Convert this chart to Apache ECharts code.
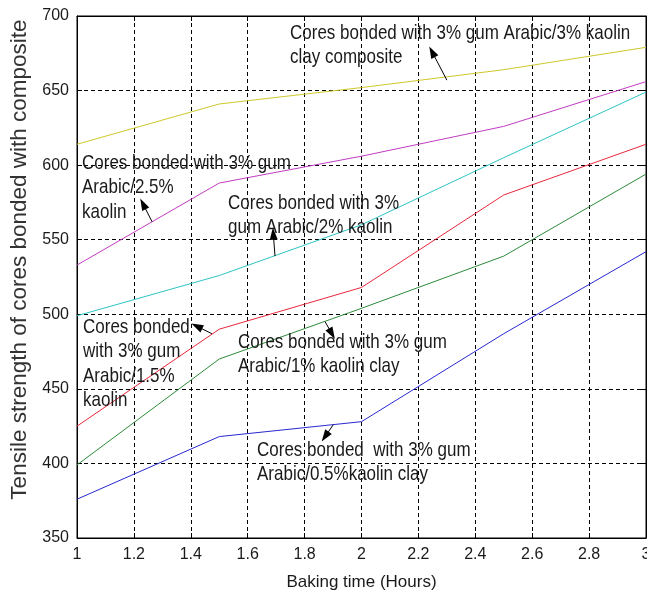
<!DOCTYPE html>
<html>
<head>
<meta charset="utf-8">
<script src="https://cdn.jsdelivr.net/npm/echarts@6/dist/echarts.min.js"></script>
<style>
html,body{margin:0;padding:0;background:#fff;}
#c{width:647px;height:594px;}
</style>
</head>
<body>
<div id="c"></div>
<script>
const bakingTime = [1, 1.5, 2, 2.5, 3];
const kaolin3 = [614, 641, 652, 664, 679];
const kaolin25 = [533, 588, 606, 626, 656];
const kaolin2 = [499, 526, 560, 605, 649];
const kaolin15 = [425, 490, 518, 580, 614];
const kaolin1 = [399, 470, 504, 539, 594];
const kaolin05 = [376, 418, 428, 487, 542];

const seriesNames = ['3% kaolin', '2.5% kaolin', '2% kaolin', '1.5% kaolin', '1% kaolin', '0.5% kaolin'];
const seriesColors = ['#cfc82a', '#c23cc2', '#2ec4c4', '#e8283a', '#2e8a3a', '#2828d0'];
const seriesValues = [kaolin3, kaolin25, kaolin2, kaolin15, kaolin1, kaolin05];

// annotation arrows (tail -> head) in data coordinates
const arrows = [
  [[2.300, 657], [2.248, 676]],
  [[1.264, 562], [1.232, 574]],
  [[1.696, 539], [1.690, 554]],
  [[1.474, 487], [1.421, 492]],
  [[1.872, 495], [1.896, 487]],
  [[1.901, 426], [1.872, 418]]
];
const annotationTexts = [
  'Cores bonded with 3% gum Arabic/3% kaolin\nclay composite',
  'Cores bonded with 3% gum\nArabic/2.5%\nkaolin',
  'Cores bonded with 3%\ngum Arabic/2% kaolin',
  'Cores bonded\nwith 3% gum\nArabic/1.5%\nkaolin',
  'Cores bonded with 3% gum\nArabic/1% kaolin clay',
  'Cores bonded  with 3% gum\nArabic/0.5%kaolin clay'
];
const annotationPos = [[290, 21], [82, 151], [228, 191], [83, 315], [238, 330], [257, 438]];

const sans = '"Liberation Sans", Arial, sans-serif';

const chart = echarts.init(document.getElementById('c'), null, {renderer: 'canvas'});

const series = seriesValues.map((vals, i) => ({
  name: seriesNames[i],
  type: 'line',
  data: bakingTime.map((x, j) => [x, vals[j]]),
  showSymbol: false,
  symbol: 'none',
  lineStyle: {color: seriesColors[i], width: 1},
  itemStyle: {color: seriesColors[i]},
  silent: true,
  markLine: {
    silent: true,
    symbol: ['none', 'triangle'],
    symbolSize: [8, 12],
    label: {show: false},
    lineStyle: {color: '#000', width: 1, type: 'solid'},
    data: [[{coord: arrows[i][0]}, {coord: arrows[i][1]}]]
  }
}));

const graphics = annotationTexts.map((t, i) => ({
  type: 'text',
  x: annotationPos[i][0],
  y: annotationPos[i][1],
  scaleY: 1.2,
  silent: true,
  z: 100,
  style: {
    text: t,
    font: '17px ' + sans,
    fill: '#1a1a1a',
    lineHeight: 20.4,
    verticalAlign: 'top',
    align: 'left'
  }
}));

const axisCommon = {
  axisLine: {show: true, lineStyle: {color: '#000', width: 1}},
  axisTick: {show: true, inside: true, length: 5, lineStyle: {color: '#000'}},
};

chart.setOption({
  animation: false,
  backgroundColor: '#fff',
  grid: {left: 77, right: 1, top: 16, bottom: 56, outerBoundsMode: 'none', containLabel: false,
    show: true, borderColor: '#000', borderWidth: 1, backgroundColor: '#fff'},
  xAxis: [{
    type: 'value', min: 1, max: 3, interval: 0.2,
    name: 'Baking time (Hours)', nameLocation: 'middle', nameGap: 36,
    nameTextStyle: {fontFamily: sans, fontSize: 17, color: '#1a1a1a'},
    ...axisCommon,
    axisLabel: {fontFamily: sans, fontSize: 16, color: '#1a1a1a', margin: 9,
      formatter: v => String(Math.round(v * 10) / 10)},
    splitLine: {show: true, lineStyle: {color: '#000', type: [4, 3], width: 1}}
  }, {
    type: 'value', min: 1, max: 3, interval: 0.2, position: 'top',
    ...axisCommon, axisLabel: {show: false}, splitLine: {show: false}
  }],
  yAxis: [{
    type: 'value', min: 350, max: 700, interval: 50,
    name: 'Tensile strength of cores bonded with composite', nameLocation: 'middle', nameGap: 31,
    nameRotate: 90,
    nameTextStyle: {fontFamily: sans, fontSize: 22.5, color: '#333', padding: [0, 0, 0, 35]},
    ...axisCommon,
    axisLabel: {fontFamily: sans, fontSize: 16, color: '#1a1a1a', margin: 8},
    splitLine: {show: true, lineStyle: {color: '#000', type: [4, 3], width: 1}}
  }, {
    type: 'value', min: 350, max: 700, interval: 50, position: 'right',
    ...axisCommon, axisLabel: {show: false}, splitLine: {show: false}
  }],
  series: series,
  graphic: graphics
});
</script>
</body>
</html>
